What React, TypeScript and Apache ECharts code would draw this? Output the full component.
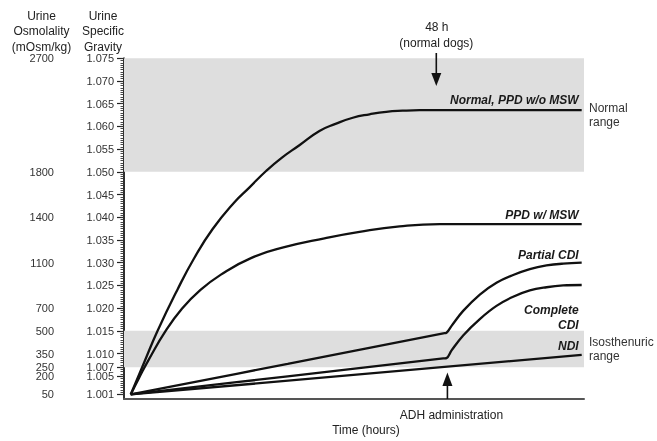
import React, { useEffect, useRef } from "react";
import * as echarts from "echarts";

// ---- data (time in arbitrary units 0..100, urine specific gravity) ----
const sgTickValues = [1.001, 1.005, 1.007, 1.010, 1.015, 1.020, 1.025, 1.030, 1.035, 1.040, 1.045, 1.050, 1.055, 1.060, 1.065, 1.070, 1.075];
const osmoSG = [1.001, 1.005, 1.007, 1.010, 1.015, 1.020, 1.030, 1.040, 1.050, 1.075];
const osmoLabels = ["50", "200", "250", "350", "500", "700", "1100", "1400", "1800", "2700"];

const normalCurve = [
  [2.1, 1.001], [4.98, 1.00798], [7.86, 1.01491], [12.19, 1.02407], [15.8, 1.03098], [19.76, 1.03736],
  [24.46, 1.04327], [27.71, 1.04654], [31.39, 1.05025], [34.63, 1.05304], [38.53, 1.05587],
  [42.86, 1.05901], [46.32, 1.06056], [50.06, 1.06191], [53.68, 1.06267], [57.29, 1.06322],
  [60.82, 1.06346], [64.5, 1.06357], [99.5, 1.06357],
];
const ppdCurve = [
  [2.1, 1.001], [3.9, 1.00464], [6.06, 1.00878], [9.68, 1.01504], [13.2, 1.0199], [16.88, 1.02376],
  [21.58, 1.02738], [28.07, 1.03102], [35.28, 1.03342], [43.94, 1.03538], [51.52, 1.0368],
  [60.17, 1.038], [68.83, 1.0385], [99.5, 1.0385],
];
const partialCDI = [
  [2.1, 1.001], [36.0, 1.00775], [69.6, 1.01446], [70.3, 1.0146], [71.4, 1.0161], [73.9, 1.0194],
  [77.5, 1.0230], [81.1, 1.0256], [84.7, 1.0273], [88.3, 1.0286], [91.9, 1.0294], [95.5, 1.0298], [99.5, 1.0300],
];
const completeCDI = [
  [2.1, 1.001], [36.0, 1.00499], [69.6, 1.00892], [70.3, 1.0090], [71.4, 1.0107], [73.9, 1.0140],
  [77.5, 1.0176], [81.1, 1.0205], [84.7, 1.0225], [88.3, 1.0239], [91.9, 1.0246], [95.5, 1.0250], [99.5, 1.0251],
];
const ndiCurve = [[2.1, 1.001], [99.5, 1.0097]];

const normalRange = [1.050, 1.075];
const isoRange = [1.007, 1.015];
const arrow48X = 68.1;
const adhX = 70.5;
const minorTickStep = 0.0005;
const minorTicks = Array.from({ length: Math.round((1.075 - 1.001) / minorTickStep) + 1 }, (_, i) => +(1.001 + i * minorTickStep).toFixed(4));

const FONT = "Liberation Sans, Arial, Helvetica, sans-serif";

function endLabel(pt: number[], text: string, dy: number) {
  return {
    symbol: "circle",
    symbolSize: 0,
    silent: true,
    data: [{ coord: pt }],
    label: {
      show: true,
      position: "left",
      distance: 3,
      offset: [0, dy],
      formatter: text,
      color: "#1a1a1a",
      fontFamily: FONT,
      fontSize: 12,
      fontWeight: "bold",
      fontStyle: "italic",
      lineHeight: 15,
    },
  };
}

function lineSeries(name: string, data: number[][], smooth: number | boolean, mp: any) {
  return {
    name,
    type: "line",
    data,
    smooth,
    showSymbol: false,
    symbol: "none",
    z: 3,
    lineStyle: { color: "#111", width: 2.3 },
    markPoint: mp,
  };
}

export default function App() {
  const ref = useRef<HTMLDivElement>(null);
  useEffect(() => {
    const chart = echarts.init(ref.current!, null, { renderer: "svg" });
    const option: any = {
      animation: false,
      grid: { left: 124, right: 73, top: 58.3, bottom: 38.7 },
      xAxis: {
        type: "value",
        min: 0.65,
        max: 100,
        axisLine: { show: true, lineStyle: { color: "#555", width: 2 } },
        axisTick: { show: false },
        axisLabel: { show: false },
        splitLine: { show: false },
        name: "Time (hours)",
        nameLocation: "middle",
        nameGap: 25,
        nameTextStyle: { fontFamily: FONT, fontSize: 12, color: "#222", padding: [0, 0, 0, 24] },
      },
      yAxis: [
        {
          type: "value",
          min: 1.0,
          max: 1.075,
          splitLine: { show: false },
          axisLine: { show: true, lineStyle: { color: "#222", width: 1.5 } },
          axisTick: { show: true, customValues: sgTickValues, length: 7, lineStyle: { color: "#222", width: 1.2 } },
          axisLabel: {
            show: true,
            customValues: sgTickValues,
            margin: 10,
            formatter: (v: number) => v.toFixed(3),
            fontFamily: FONT,
            fontSize: 11,
            lineHeight: 9,
            color: "#333",
          },
        },
        {
          type: "value",
          min: 1.0,
          max: 1.075,
          position: "left",
          splitLine: { show: false },
          axisLine: { show: true, lineStyle: { color: "#222", width: 1.5 } },
          axisTick: { show: true, customValues: minorTicks, length: 3.5, lineStyle: { color: "#333", width: 0.9 } },
          axisLabel: { show: false },
        },
        {
          type: "value",
          min: 1.0,
          max: 1.075,
          position: "left",
          offset: 70,
          splitLine: { show: false },
          axisLine: { show: false },
          axisTick: { show: false },
          axisLabel: {
            show: true,
            customValues: osmoSG,
            margin: 0,
            formatter: (v: number) => {
              let best = 0;
              osmoSG.forEach((s, i) => {
                if (Math.abs(s - v) < Math.abs(osmoSG[best] - v)) best = i;
              });
              return osmoLabels[best];
            },
            fontFamily: FONT,
            fontSize: 11,
            lineHeight: 9,
            color: "#333",
          },
        },
      ],
      series: [
        {
          name: "ranges",
          type: "line",
          data: [],
          z: 1,
          markArea: {
            silent: true,
            itemStyle: { color: "#dedede", opacity: 1 },
            label: {
              show: true,
              position: "right",
              distance: 5,
              align: "left",
              formatter: "{b}",
              color: "#333",
              fontFamily: FONT,
              fontSize: 12,
              lineHeight: 14.5,
            },
            data: [
              [{ yAxis: normalRange[0], name: "Normal\nrange" }, { yAxis: normalRange[1] }],
              [{ yAxis: isoRange[0], name: "Isosthenuric\nrange" }, { yAxis: isoRange[1] }],
            ],
          },
        },
        lineSeries("Normal, PPD w/o MSW", normalCurve, 0.5, endLabel(normalCurve[normalCurve.length - 1], "Normal, PPD w/o MSW", -10.5)),
        lineSeries("PPD w/ MSW", ppdCurve, 0.5, endLabel(ppdCurve[ppdCurve.length - 1], "PPD w/ MSW", -9)),
        lineSeries("Partial CDI", partialCDI, 0.4, endLabel(partialCDI[partialCDI.length - 1], "Partial CDI", -7.6)),
        lineSeries("Complete CDI", completeCDI, 0.4, endLabel(completeCDI[completeCDI.length - 1], "Complete\nCDI", 32.5)),
        lineSeries("NDI", ndiCurve, false, endLabel(ndiCurve[ndiCurve.length - 1], "NDI", -8.5)),
      ],
    };
    chart.setOption(option);

    const toPx = (x: number, y: number) => chart.convertToPixel({ gridIndex: 0 }, [x, y]);
    const x48 = toPx(arrow48X, 1.05)[0];
    const xAdh = toPx(adhX, 1.005)[0];
    const yBottom = toPx(adhX, 1.0)[1];

    const txt = (text: string, x: number, y: number, size = 12) => ({
      type: "text",
      x,
      y,
      z: 10,
      style: { text, fill: "#222", fontFamily: FONT, fontSize: size, align: "center", verticalAlign: "middle" },
    });
    chart.setOption({
      graphic: [
        txt("Urine", 41.5, 15.5),
        txt("Osmolality", 41.5, 31),
        txt("(mOsm/kg)", 41.5, 46.5),
        txt("Urine", 103, 15.5),
        txt("Specific", 103, 31),
        txt("Gravity", 103, 46.5),
        txt("48 h", x48 + 0.5, 26.7),
        txt("(normal dogs)", x48, 43.3),
        { type: "line", z: 10, shape: { x1: x48, y1: 53, x2: x48, y2: 76 }, style: { stroke: "#111", lineWidth: 1.6 } },
        { type: "polygon", z: 10, shape: { points: [[x48 - 5, 73], [x48 + 5, 73], [x48, 86]] }, style: { fill: "#111" } },
        { type: "line", z: 10, shape: { x1: xAdh, y1: yBottom, x2: xAdh, y2: 383 }, style: { stroke: "#111", lineWidth: 1.6 } },
        { type: "polygon", z: 10, shape: { points: [[xAdh - 5, 386], [xAdh + 5, 386], [xAdh, 372.5]] }, style: { fill: "#111" } },
        txt("ADH administration", xAdh + 4, 415),
      ],
    });
    return () => chart.dispose();
  }, []);
  return <div ref={ref} style={{ position: "fixed", left: 0, top: 0, width: 657, height: 441 }} />;
}
